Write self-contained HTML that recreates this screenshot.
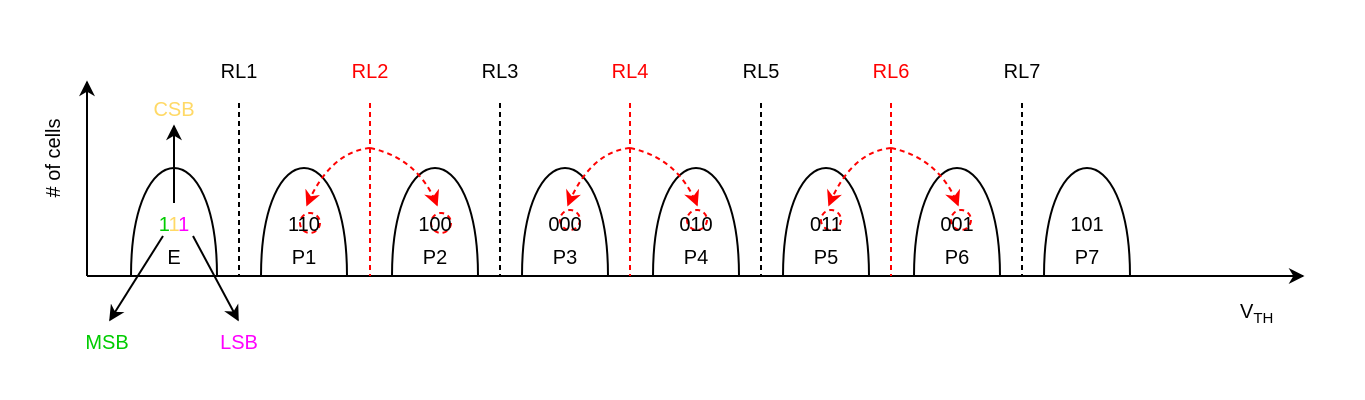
<!DOCTYPE html>
<html><head><style>body{margin:0;background:#fff}svg{display:block}</style></head><body>
<svg width="1365" height="400" viewBox="0 0 1365 400" xmlns="http://www.w3.org/2000/svg" font-family="Liberation Sans, Arial, sans-serif">
<defs>
<marker id="ak" viewBox="0 0 10 10" refX="9" refY="5" markerWidth="8" markerHeight="8" orient="auto"><path d="M0,0 L10,5 L0,10 L3,5z" fill="#000"/></marker>
<marker id="ar" viewBox="0 0 10 10" refX="9" refY="5" markerWidth="8" markerHeight="8" orient="auto"><path d="M0,0 L10,5 L0,10 L3,5z" fill="#f00"/></marker>
</defs>
<g stroke="#000" stroke-width="2" fill="none">
<line x1="87" y1="276" x2="87" y2="82" marker-end="url(#ak)"/>
<line x1="87" y1="276" x2="1303" y2="276" marker-end="url(#ak)"/>
</g>
<text x="60" y="158" font-size="20" text-anchor="middle" transform="rotate(-90 60 158)">#  of cells</text>
<text x="1240" y="318" font-size="20">V<tspan font-size="15" dy="5">TH</tspan></text>
<g stroke="#000" stroke-width="2" fill="none">
<path d="M131,276 C131,132 217,132 217,276"/>
<path d="M261,276 C261,132 347,132 347,276"/>
<path d="M392,276 C392,132 478,132 478,276"/>
<path d="M522,276 C522,132 608,132 608,276"/>
<path d="M653,276 C653,132 739,132 739,276"/>
<path d="M783,276 C783,132 869,132 869,276"/>
<path d="M914,276 C914,132 1000,132 1000,276"/>
<path d="M1044,276 C1044,132 1130,132 1130,276"/>
</g>
<g stroke-width="2" stroke-dasharray="5,4">
<line x1="239" y1="103" x2="239" y2="276" stroke="#000"/>
<line x1="370" y1="103" x2="370" y2="276" stroke="#f00"/>
<line x1="500" y1="103" x2="500" y2="276" stroke="#000"/>
<line x1="630" y1="103" x2="630" y2="276" stroke="#f00"/>
<line x1="761" y1="103" x2="761" y2="276" stroke="#000"/>
<line x1="891" y1="103" x2="891" y2="276" stroke="#f00"/>
<line x1="1022" y1="103" x2="1022" y2="276" stroke="#000"/>
</g>
<g font-size="20" text-anchor="middle">
<text x="239" y="78">RL1</text><text x="370" y="78" fill="#f00">RL2</text>
<text x="500" y="78">RL3</text><text x="630" y="78" fill="#f00">RL4</text>
<text x="761" y="78">RL5</text><text x="891" y="78" fill="#f00">RL6</text>
<text x="1022" y="78">RL7</text>
</g>
<g stroke="#f00" stroke-width="2" fill="none" stroke-dasharray="5,4">
<path d="M370,148 Q330,152 307,205" marker-end="url(#ar)"/>
<path d="M370,148 Q418,158 437,205" marker-end="url(#ar)"/>
<path d="M630,148 Q590,152 568,205" marker-end="url(#ar)"/>
<path d="M630,148 Q678,158 697,205" marker-end="url(#ar)"/>
<path d="M891,148 Q851,152 829,205" marker-end="url(#ar)"/>
<path d="M891,148 Q939,158 958,205" marker-end="url(#ar)"/>
<circle cx="310" cy="223" r="10"/><circle cx="441" cy="223" r="10"/>
<circle cx="570" cy="220" r="10"/><circle cx="697" cy="220" r="10"/>
<circle cx="831" cy="220" r="10"/><circle cx="961" cy="220" r="10"/>
</g>
<g font-size="20" text-anchor="middle">
<text x="174" y="231"><tspan fill="#00cc00">1</tspan><tspan fill="#ffd966">1</tspan><tspan fill="#ff00ff">1</tspan></text>
<text x="174" y="264">E</text>
<text x="304" y="231">110</text><text x="304" y="264">P1</text>
<text x="435" y="231">100</text><text x="435" y="264">P2</text>
<text x="565" y="231">000</text><text x="565" y="264">P3</text>
<text x="696" y="231">010</text><text x="696" y="264">P4</text>
<text x="826" y="231">011</text><text x="826" y="264">P5</text>
<text x="957" y="231">001</text><text x="957" y="264">P6</text>
<text x="1087" y="231">101</text><text x="1087" y="264">P7</text>
<text x="174" y="116" fill="#ffd966">CSB</text>
<text x="107" y="349" fill="#00cc00">MSB</text>
<text x="239" y="349" fill="#ff00ff">LSB</text>
</g>
<g stroke="#000" stroke-width="2" fill="none">
<line x1="174" y1="203" x2="174" y2="126" marker-end="url(#ak)"/>
<line x1="163" y1="236" x2="110" y2="320" marker-end="url(#ak)"/>
<line x1="193" y1="236" x2="238" y2="320" marker-end="url(#ak)"/>
</g>
</svg>
</body></html>
